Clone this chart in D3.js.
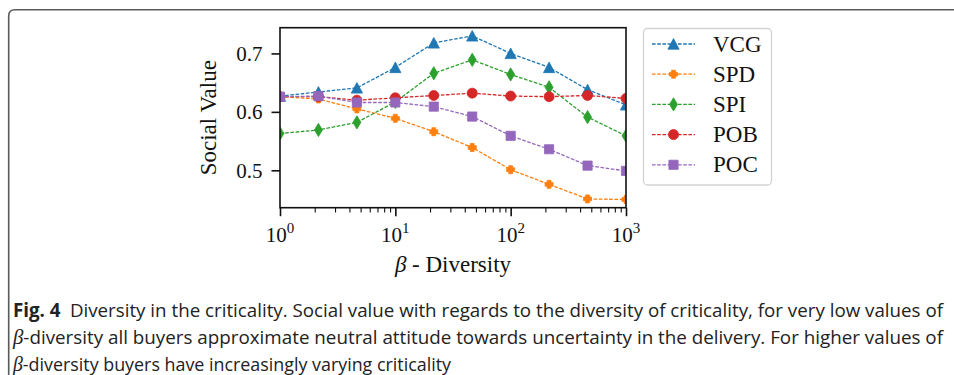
<!DOCTYPE html>
<html>
<head>
<meta charset="utf-8">
<script src="https://cdn.jsdelivr.net/npm/d3@7"></script>
<style>
	html, body { margin: 0; padding: 0; background: #fff; }
	svg { display: block; }
</style>
</head>
<body>
<div id="chart"></div>
<script>
// data
const betaValues = [1, 2.154, 4.642, 10, 21.54, 46.42, 100, 215.4, 464.2, 1000]
const vcgValues = [0.627, 0.634, 0.641, 0.676, 0.718, 0.730, 0.700, 0.676, 0.638, 0.612]
const spdValues = [0.626, 0.622, 0.605, 0.589, 0.566, 0.539, 0.501, 0.476, 0.451, 0.450]
const spiValues = [0.563, 0.569, 0.582, 0.617, 0.666, 0.689, 0.664, 0.642, 0.591, 0.559]
const pobValues = [0.626, 0.626, 0.620, 0.624, 0.628, 0.632, 0.627, 0.626, 0.628, 0.623]
const pocValues = [0.626, 0.627, 0.616, 0.616, 0.609, 0.592, 0.559, 0.536, 0.508, 0.499]
const seriesNames = ['VCG', 'SPD', 'SPI', 'POB', 'POC']
const yTickValues = [0.5, 0.6, 0.7]
const xTickExponents = [0, 1, 2, 3]
const captionLines = [
	'Diversity in the criticality. Social value with regards to the diversity of criticality, for very low values of',
	'-diversity all buyers approximate neutral attitude towards uncertainty in the delivery. For higher values of',
	'-diversity buyers have increasingly varying criticality',
]

const W = 954
const H = 375
const plot = { left: 280, right: 626, top: 27.7, bottom: 207.7 }
const serif = '"Liberation Serif", "Times New Roman", serif'
const colors = ['#1f77b4', '#ff7f0e', '#2ca02c', '#d62728', '#9467bd']
const allValues = [vcgValues, spdValues, spiValues, pobValues, pocValues]

const series = seriesNames.map((name, i) => ({
	name: name,
	color: colors[i],
	marker: ['triangle', 'plus', 'diamond', 'circle', 'square'][i],
	points: betaValues.map((b, j) => ({ x: b, y: allValues[i][j] })),
}))

const x = d3.scaleLog().domain([1, 1000]).range([plot.left, plot.right])
const y = d3.scaleLinear().domain([0.436, 0.744]).range([plot.bottom, plot.top])

// marker shapes, sizes in px
function markerPath(type) {
	const p = d3.path()
	if (type === 'triangle') {
		p.moveTo(0, -5.4); p.lineTo(5.6, 5.2); p.lineTo(-5.6, 5.2); p.closePath()
	} else if (type === 'diamond') {
		p.moveTo(0, -6.6); p.lineTo(4, 0); p.lineTo(0, 6.6); p.lineTo(-4, 0); p.closePath()
	} else if (type === 'square') {
		p.rect(-4.6, -4.6, 9.2, 9.2)
	} else if (type === 'circle') {
		p.moveTo(5, 0); p.arc(0, 0, 5, 0, Math.PI * 2)
	} else {
		const a = 4, b = 1.9
		p.moveTo(-b, -a); p.lineTo(b, -a); p.lineTo(b, -b); p.lineTo(a, -b); p.lineTo(a, b); p.lineTo(b, b)
		p.lineTo(b, a); p.lineTo(-b, a); p.lineTo(-b, b); p.lineTo(-a, b); p.lineTo(-a, -b); p.lineTo(-b, -b)
		p.closePath()
	}
	return p.toString()
}

const svg = d3.select('#chart').append('svg').attr('width', W).attr('height', H)

// frame of the figure box
svg.append('path')
	.attr('d', 'M8.7,' + H + ' L8.7,16 Q8.7,9.8 14.9,9.8 L' + W + ',9.8')
	.attr('fill', 'none')
	.attr('stroke', '#5a5a5a')
	.attr('stroke-width', 1.6)

svg.append('defs').append('clipPath').attr('id', 'plotClip')
	.append('rect')
	.attr('x', plot.left).attr('y', plot.top)
	.attr('width', plot.right - plot.left).attr('height', plot.bottom - plot.top)

// series lines + markers
const line = d3.line().x((d) => x(d.x)).y((d) => y(d.y))
const seriesGroup = svg.append('g').attr('clip-path', 'url(#plotClip)')
	.selectAll('.series').data(series).enter()
	.append('g').attr('class', 'series')

seriesGroup.append('path')
	.attr('d', (d) => line(d.points))
	.attr('fill', 'none')
	.attr('stroke', (d) => d.color)
	.attr('stroke-width', 1.3)
	.attr('stroke-dasharray', '3.6,1.6')

seriesGroup.selectAll('.marker')
	.data((d) => d.points.map((p) => ({ ...p, color: d.color, marker: d.marker })))
	.enter()
	.append('path')
	.attr('class', 'marker')
	.attr('d', (d) => markerPath(d.marker))
	.attr('transform', (d) => 'translate(' + x(d.x) + ',' + y(d.y) + ')')
	.attr('fill', (d) => d.color)
	.attr('stroke', (d) => d.color)
	.attr('stroke-width', 0.8)

// spines
svg.append('rect')
	.attr('x', plot.left).attr('y', plot.top)
	.attr('width', plot.right - plot.left).attr('height', plot.bottom - plot.top)
	.attr('fill', 'none').attr('stroke', '#111').attr('stroke-width', 1.6)

// y axis
const yAxis = svg.append('g')
	.attr('transform', 'translate(' + plot.left + ',0)')
	.call(d3.axisLeft(y).tickValues(yTickValues).tickFormat(d3.format('.1f')).tickSize(8.5).tickPadding(9))
yAxis.select('.domain').remove()
yAxis.selectAll('line').attr('stroke', '#111').attr('stroke-width', 1.6)
yAxis.selectAll('text').attr('font-family', serif).attr('font-size', 21).attr('fill', '#111')

// x axis: minor ticks then major ticks
const minorTicks = []
for (let e = 0; e < 3; e++) {
	for (let k = 2; k <= 9; k++) minorTicks.push(k * Math.pow(10, e))
}
const xMinor = svg.append('g')
	.attr('transform', 'translate(0,' + plot.bottom + ')')
	.call(d3.axisBottom(x).tickValues(minorTicks).tickFormat('').tickSize(4.8))
xMinor.select('.domain').remove()
xMinor.selectAll('line').attr('stroke', '#111').attr('stroke-width', 1.1)

const xMajor = svg.append('g')
	.attr('transform', 'translate(0,' + plot.bottom + ')')
	.call(d3.axisBottom(x).tickValues(xTickExponents.map((e) => Math.pow(10, e))).tickFormat('').tickSize(8.5))
xMajor.select('.domain').remove()
xMajor.selectAll('line').attr('stroke', '#111').attr('stroke-width', 1.6)

// 10^n labels
const xLabels = svg.append('g').selectAll('text').data(xTickExponents).enter()
	.append('text')
	.attr('x', (e) => x(Math.pow(10, e)))
	.attr('y', 241.5)
	.attr('text-anchor', 'middle')
	.attr('font-family', serif)
	.attr('font-size', 21)
	.attr('fill', '#111')
xLabels.append('tspan').text('10')
xLabels.append('tspan').attr('dy', -8.5).attr('font-size', 15).text((e) => e)

// axis titles
svg.append('text')
	.attr('transform', 'translate(208,' + (plot.top + plot.bottom) / 2 + ') rotate(-90)')
	.attr('text-anchor', 'middle')
	.attr('dominant-baseline', 'central')
	.attr('font-family', serif)
	.attr('font-size', 23)
	.attr('fill', '#111')
	.text('Social Value')

const xTitle = svg.append('text')
	.attr('x', (plot.left + plot.right) / 2)
	.attr('y', 271.5)
	.attr('text-anchor', 'middle')
	.attr('font-family', serif)
	.attr('font-size', 23)
	.attr('fill', '#111')
xTitle.append('tspan').attr('font-style', 'italic').text('β')
xTitle.append('tspan').text(' - Diversity')

// legend
const legend = svg.append('g')
legend.append('rect')
	.attr('x', 643.5).attr('y', 28.5).attr('width', 128).attr('height', 156.5)
	.attr('rx', 4).attr('fill', '#fff').attr('stroke', '#d3d3d3').attr('stroke-width', 1.3)

const legendRows = legend.selectAll('.legendRow').data(series).enter()
	.append('g').attr('class', 'legendRow')
	.attr('transform', (d, i) => 'translate(0,' + (44 + i * 30.2) + ')')
legendRows.append('line')
	.attr('x1', 652).attr('x2', 695)
	.attr('stroke', (d) => d.color).attr('stroke-width', 1.3).attr('stroke-dasharray', '3.6,1.6')
legendRows.append('path')
	.attr('d', (d) => markerPath(d.marker))
	.attr('transform', 'translate(673.5,0)')
	.attr('fill', (d) => d.color).attr('stroke', (d) => d.color).attr('stroke-width', 0.8)
legendRows.append('text')
	.attr('x', 713).attr('y', 0)
	.attr('dominant-baseline', 'central')
	.attr('font-family', serif)
	.attr('font-size', 23)
	.attr('fill', '#111')
	.text((d) => d.name)

// caption, condensed to the widths of the original lines
const sans = '"Open Sans", "Noto Sans", sans-serif'
const cap = svg.append('g').attr('font-family', sans).attr('font-size', 19).attr('fill', '#222')
const l1 = cap.append('text').attr('x', 13).attr('y', 316.5).attr('textLength', 930).attr('lengthAdjust', 'spacingAndGlyphs')
l1.append('tspan').attr('font-weight', 'bold').text('Fig. 4')
l1.append('tspan').text('\u2002' + captionLines[0])
const l2 = cap.append('text').attr('x', 13).attr('y', 343.5).attr('textLength', 930).attr('lengthAdjust', 'spacingAndGlyphs')
l2.append('tspan').attr('font-family', serif).attr('font-style', 'italic').attr('font-size', 21).text('β')
l2.append('tspan').text(captionLines[1])
const l3 = cap.append('text').attr('x', 13).attr('y', 370.5).attr('textLength', 438).attr('lengthAdjust', 'spacingAndGlyphs')
l3.append('tspan').attr('font-family', serif).attr('font-style', 'italic').attr('font-size', 21).text('β')
l3.append('tspan').text(captionLines[2])
</script>
</body>
</html>
